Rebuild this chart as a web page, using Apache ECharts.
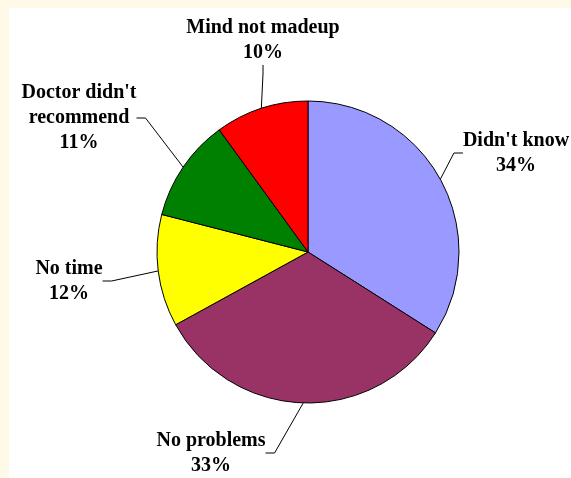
<!DOCTYPE html>
<html>
<head>
<meta charset="utf-8">
<script src="https://cdn.jsdelivr.net/npm/echarts@6/dist/echarts.min.js"></script>
<style>
  html, body { margin: 0; padding: 0; background: #ffffff; }
  #chart { width: 571px; height: 478px; }
</style>
</head>
<body>
<div id="chart"></div>
<script>
// Reasons given, in clockwise order starting at twelve o'clock
const categories = ["Didn't know", "No problems", "No time", "Doctor didn't\nrecommend", "Mind not madeup"];
// Share of respondents (%)
const shares = [34, 33, 12, 11, 10];

// Slice fills, same order as the categories
const sliceColors = ['#9999FF', '#993366', '#FFFF00', '#008000', '#FF0000'];
// Centre point of each label block, in pixels
const labelAnchors = [[516, 153], [211, 453], [69, 281], [79, 118], [263, 40]];

const pieData = categories.map((name, i) => ({
  name: name,
  value: shares[i],
  itemStyle: { color: sliceColors[i] }
}));

const chart = echarts.init(document.getElementById('chart'), null, { renderer: 'canvas' });

chart.setOption({
  animation: false,
  backgroundColor: '#ffffff',
  graphic: [
    // cream frame along the top and left edges
    { type: 'rect', z: -10, shape: { x: 0, y: 0, width: 571, height: 8 }, style: { fill: '#FFFAE8' } },
    { type: 'rect', z: -10, shape: { x: 0, y: 0, width: 9, height: 478 }, style: { fill: '#FFFAE8' } }
  ],
  series: [{
    type: 'pie',
    center: [308, 252],
    radius: 151,
    startAngle: 90,
    clockwise: true,
    silent: true,
    avoidLabelOverlap: false,
    data: pieData,
    itemStyle: { borderColor: '#000000', borderWidth: 1 },
    label: {
      show: true,
      color: '#000000',
      fontFamily: '"Liberation Serif", "Times New Roman", serif',
      fontWeight: 'bold',
      fontSize: 20,
      lineHeight: 25,
      align: 'center',
      formatter: p => p.name + '\n' + p.value + '%'
    },
    labelLine: {
      show: true,
      length: 20,
      length2: 9,
      minTurnAngle: 0,
      lineStyle: { color: '#000000', width: 1 }
    },
    labelLayout: function (params) {
      const a = labelAnchors[params.dataIndex];
      return { x: a[0], y: a[1], align: 'center', verticalAlign: 'middle' };
    }
  }]
});
</script>
</body>
</html>
